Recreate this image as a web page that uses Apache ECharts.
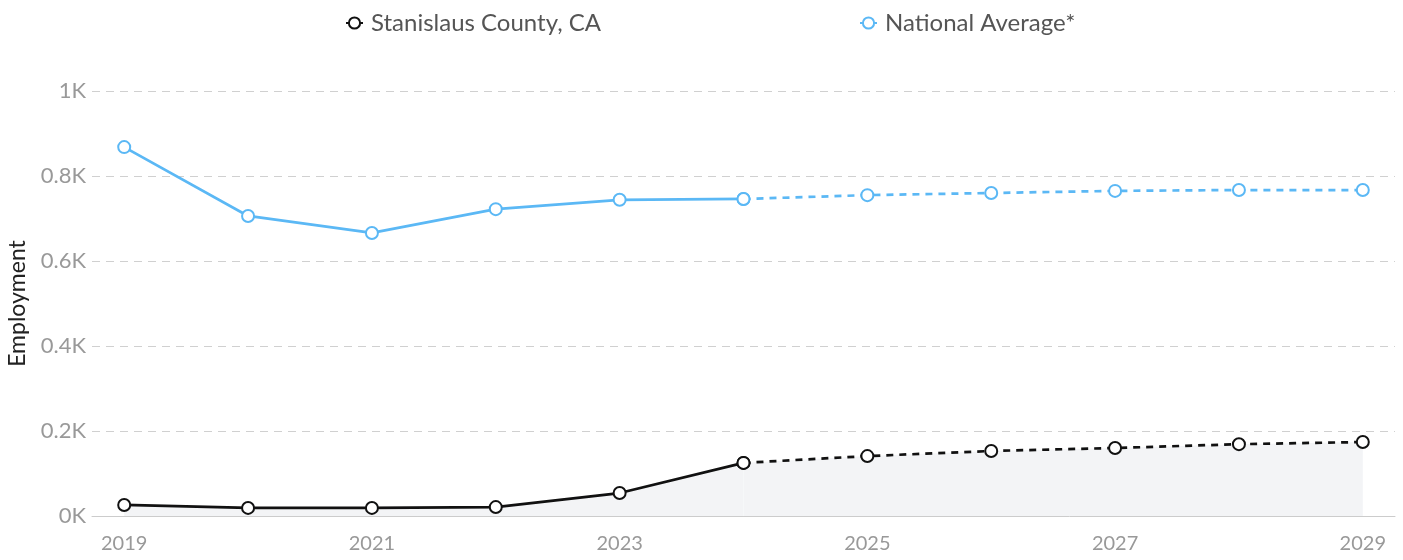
<!DOCTYPE html>
<html><head><meta charset="utf-8">
<script src="https://cdn.jsdelivr.net/npm/echarts@6/dist/echarts.min.js"></script>
<style>html,body{margin:0;padding:0;background:#fff}#c{width:1403px;height:560px}</style>
</head><body><div id="c"></div>
<script>
const years = [2019,2020,2021,2022,2023,2024,2025,2026,2027,2028,2029];
const countyValues = [26,19,19,21,54,125,141,153,160,169,174];
const nationalValues = [868,706,666,722,744,746,755,760,765,767,767];
const forecastStart = 2024;
const xLabelYears = [2019,2021,2023,2025,2027,2029];

function pairs(vals, from, to){
  return years.map((y,i)=>[y,vals[i]]).filter(p=>p[0]>=from && p[0]<=to);
}
const chart = echarts.init(document.getElementById('c'));
const font = 'Lato, "Open Sans", sans-serif';
const black = '#111111', blue = '#5bb8f5';
function lineSeries(name, color, data, dashed, area){
  return {
    name, type:'line', data, symbol:'emptyCircle', symbolSize:12,
    lineStyle:{color, width:2.7, type: dashed?[7,6]:'solid'},
    itemStyle:{color, borderColor:color, borderWidth:2.7},
    areaStyle: area ? {color:'#f3f4f6', opacity:1} : undefined,
    z: area?3:4, animation:false
  };
}
chart.setOption({
  animation:false,
  legend:{
    top:6, left:340, itemGap:258, itemWidth:17, itemHeight:14,
    textStyle:{fontFamily:font, fontSize:24, color:'#555', padding:[0,0,0,3]},
    data:['Stanislaus County, CA','National Average*']
  },
  grid:{left:92, right:8, top:91, bottom:44, containLabel:false, outerBoundsMode:'none'},
  xAxis:{
    type:'value', min:2018.74, max:2029.26,
    axisLine:{show:true, lineStyle:{color:'#cccccc', width:1}},
    axisTick:{show:false},
    splitLine:{show:false},
    axisLabel:{customValues:xLabelYears, fontFamily:font, fontSize:20, color:'#999', margin:18, formatter:v=>String(v)}
  },
  yAxis:{
    type:'value', min:0, max:1000, interval:200,
    name:'Employment', nameLocation:'middle', nameGap:63, nameRotate:90,
    nameTextStyle:{fontFamily:font, fontSize:23, color:'#222'},
    axisLine:{show:false}, axisTick:{show:false},
    splitLine:{lineStyle:{color:'#d0d0d0', type:[8,6]}},
    axisLabel:{fontFamily:font, fontSize:22, color:'#999', margin:6,
      formatter:v=> v===0?'0K':(v/1000)+'K'}
  },
  series:[
    lineSeries('Stanislaus County, CA', black, pairs(countyValues,2019,forecastStart), false, true),
    lineSeries('Stanislaus County, CA', black, pairs(countyValues,forecastStart,2029), true, true),
    lineSeries('National Average*', blue, pairs(nationalValues,2019,forecastStart), false, false),
    lineSeries('National Average*', blue, pairs(nationalValues,forecastStart,2029), true, false)
  ]
});
</script></body></html>
